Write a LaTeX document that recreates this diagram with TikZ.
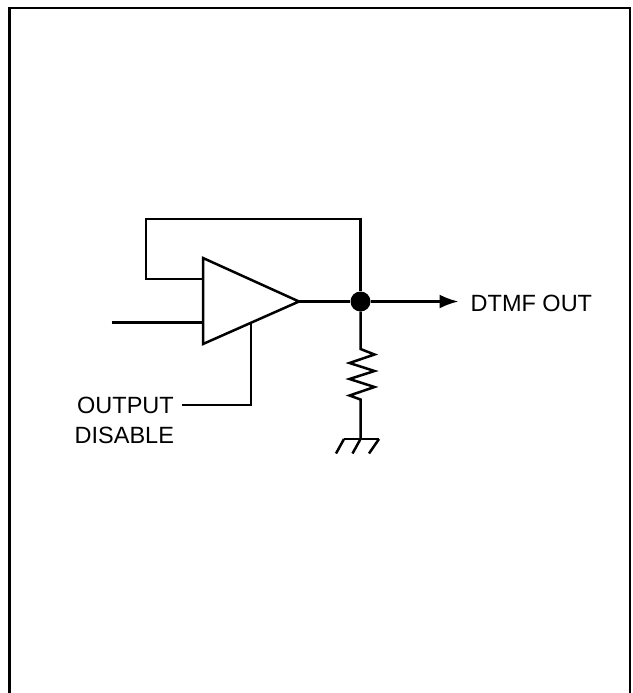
\documentclass[tikz,border=0pt]{standalone}
\usepackage{fontspec}
\setmainfont{Liberation Sans}
\usetikzlibrary{arrows.meta}

\begin{document}
\begin{tikzpicture}[x=1pt,
            y=-1pt,
            >={Latex[length=19pt,width=14pt]},
            wire/.style={line width=2.5pt,line join=miter},
            frameline/.style={line width=2.8pt},
            junction/.style={circle,fill=black,inner sep=0pt,minimum size=20pt},
            label/.style={inner sep=0pt,font=\fontsize{23.5}{28}\selectfont}]

        \useasboundingbox (0,0) rectangle (632,693);

        % page frame, open at the bottom
        \coordinate (fbl) at (9.5,693);
        \coordinate (ftl) at (9.5,8);
        \coordinate (ftr) at (630,8);
        \coordinate (fbr) at (630,693);
        \draw[frameline] (fbl) -- (ftl) -- (ftr) -- (fbr);

        % amplifier
        \coordinate (ampa) at (203,258);
        \coordinate (ampb) at (203,344);
        \coordinate (ampc) at (299,301.5);
        \coordinate (fbin) at (203,279);
        \coordinate (sigin) at (203,322.5);
        \coordinate (sigend) at (111.5,322.5);
        \coordinate (disin) at (251,323);
        \coordinate (discorner) at (251,405);
        \coordinate (disend) at (182,405);
        \coordinate (fba) at (146,279);
        \coordinate (fbb) at (146,219);
        \coordinate (fbc) at (360.5,219);
        \coordinate (outend) at (458.5,301.5);
        \coordinate (resa) at (360.5,349);
        \coordinate (resb) at (360.5,399.5);
        \coordinate (gnd) at (360.5,439);

        \node[junction] (dot) at (360.5,301.5) {};

        \node[label,anchor=base west] (dtmf) at (470.5,311.5) {DTMF OUT};
        \node[label,anchor=base west] (outp) at (77,413) {OUTPUT};
        \node[label,anchor=base west] (disb) at (74.5,443) {DISABLE};

        \draw[wire] (ampa) -- (ampc) -- (ampb) -- cycle;
        \draw[wire] (ampc) -- (dot);
        \draw[wire] (fbin) -- (fba) -- (fbb) -- (fbc) -- (dot);
        \draw[wire] (sigend) -- (sigin);
        \draw[wire] (disin) -- (discorner) -- (disend);
        \draw[wire,->] (dot) -- (outend);

        % resistor and ground
        \draw[wire] (dot) -- (resa) -- ++(14,5.5) -- ++(-25,8.5) -- ++(25,8)
                    -- ++(-25,8) -- ++(25,8) -- ++(-25,8.5) -- (resb) -- (gnd);
        \draw[wire] (gnd) ++(-16.5,0) -- ++(35,0);
        \draw[wire] (gnd) ++(-16.5,0) -- ++(-8,14.5);
        \draw[wire] (gnd) -- ++(-8,14.5);
        \draw[wire] (gnd) ++(18.5,0) -- ++(-10,14.5);

    \end{tikzpicture}
\end{document}
